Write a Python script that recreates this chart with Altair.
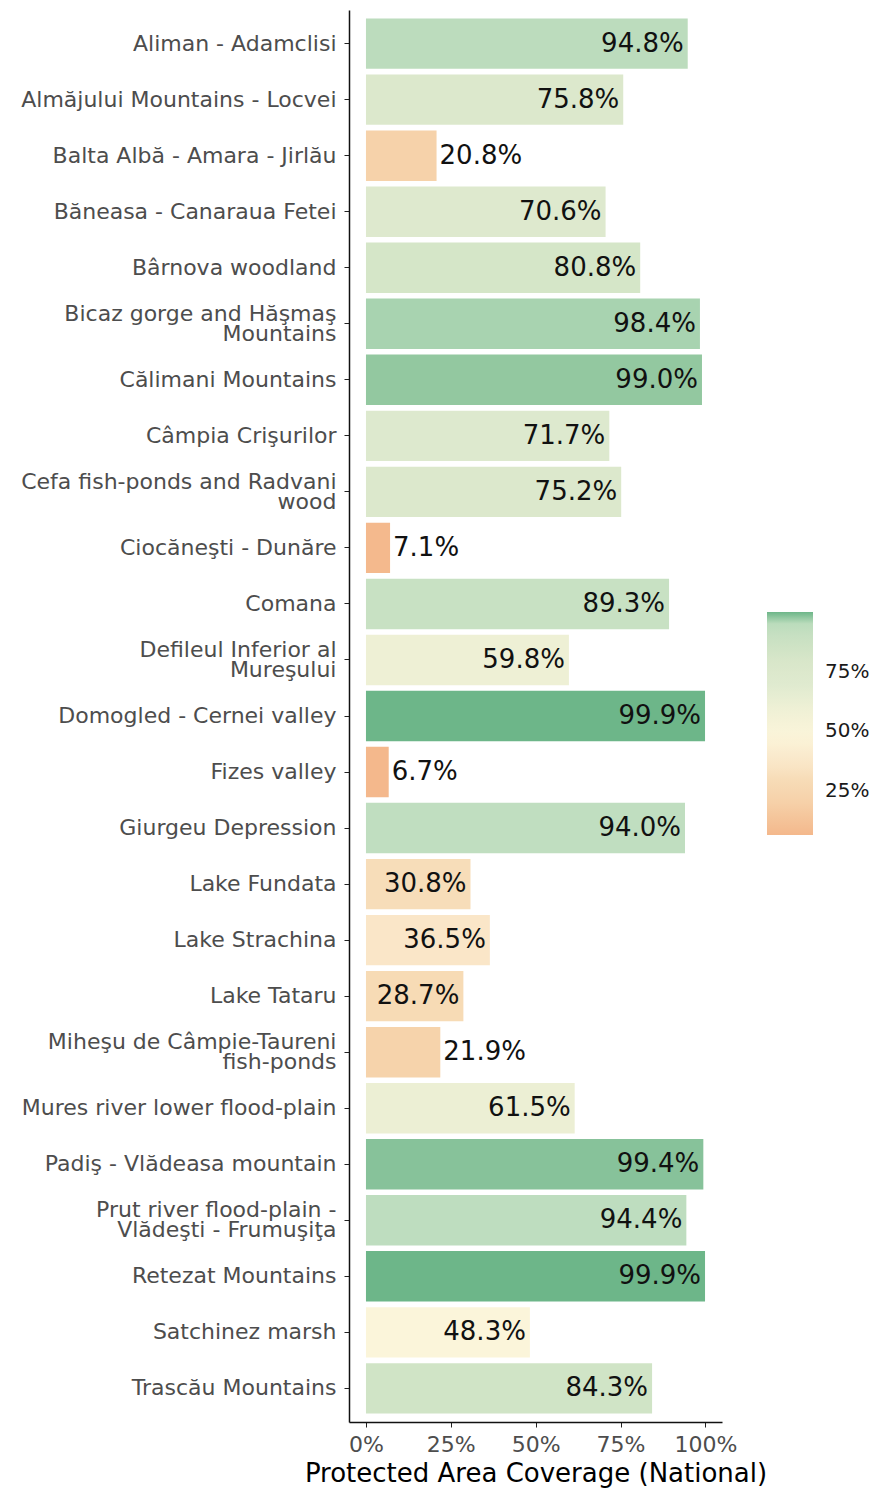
import altair as alt
import pandas as pd

sites = [
    "Aliman - Adamclisi",
    "Almăjului Mountains - Locvei",
    "Balta Albă - Amara - Jirlău",
    "Băneasa - Canaraua Fetei",
    "Bârnova woodland",
    "Bicaz gorge and Hăşmaş\nMountains",
    "Călimani Mountains",
    "Câmpia Crişurilor",
    "Cefa fish-ponds and Radvani\nwood",
    "Ciocăneşti - Dunăre",
    "Comana",
    "Defileul Inferior al\nMureşului",
    "Domogled - Cernei valley",
    "Fizes valley",
    "Giurgeu Depression",
    "Lake Fundata",
    "Lake Strachina",
    "Lake Tataru",
    "Miheşu de Câmpie-Taureni\nfish-ponds",
    "Mures river lower flood-plain",
    "Padiş - Vlădeasa mountain",
    "Prut river flood-plain -\nVlădeşti - Frumuşiţa",
    "Retezat Mountains",
    "Satchinez marsh",
    "Trascău Mountains",
]
coverage = [94.8, 75.8, 20.8, 70.6, 80.8, 98.4, 99.0, 71.7, 75.2, 7.1,
            89.3, 59.8, 99.9, 6.7, 94.0, 30.8, 36.5, 28.7, 21.9, 61.5,
            99.4, 94.4, 99.9, 48.3, 84.3]
legend_ticks = [25, 50, 75]
x_ticks = [0, 25, 50, 75, 100]

df = pd.DataFrame({"site": sites, "coverage": coverage})
df["label"] = df["coverage"].map(lambda v: f"{v:.1f}%")

col_domain = [6.7, 21, 30, 36.5, 48.3, 60, 71, 76, 84, 94, 98.4, 99.0, 99.4, 99.9]
col_range = ["#F4B88C", "#F6D2AA", "#F7DCB7", "#FAE6C8", "#FBF5DA", "#EEF0D5",
             "#DDE9CE", "#DCE8CC", "#D1E4C6", "#C0DEC0", "#A8D3B0", "#93C8A0",
             "#87C29A", "#6DB689"]

FONT = "DejaVu Sans"

y_enc = alt.Y(
    "site:N",
    sort=sites,
    title=None,
    scale=alt.Scale(paddingInner=0.1, paddingOuter=0.15),
    axis=alt.Axis(labelExpr="split(datum.label, '\\n')", labelLineHeight=20,
                  labelFontSize=22, labelColor="#4D4D4D", labelFont=FONT,
                  labelPadding=8, tickSize=5, tickColor="#222222",
                  labelOffset={"condition": {"test": "indexof(datum.value, '\\n') >= 0",
                                             "value": -10},
                               "value": 0},
                  domainColor="#111111", domainWidth=1.5, labelLimit=400,
                  grid=False),
)
x_scale = alt.Scale(domain=[-5.0, 104.9], nice=False, zero=False)

bars = alt.Chart(df).mark_bar().encode(
    y=y_enc,
    x=alt.X("coverage:Q", scale=x_scale,
            title="Protected Area Coverage (National)",
            axis=alt.Axis(values=x_ticks, labelExpr="datum.value + '%'",
                          labelFontSize=22, labelColor="#4D4D4D", labelFont=FONT,
                          labelPadding=7, tickSize=5, tickColor="#222222",
                          domainColor="#111111", domainWidth=1.5, grid=False,
                          titleFont=FONT, titleFontSize=26, titleFontWeight="normal",
                          titleColor="#000000", titlePadding=5)),
    x2=alt.datum(0),
    color=alt.Color("coverage:Q",
                    scale=alt.Scale(domain=col_domain, range=col_range, interpolate="rgb"),
                    legend=alt.Legend(title=None, values=legend_ticks,
                                      labelExpr="datum.value + '%'",
                                      orient="none", legendX=418, legendY=602,
                                      gradientLength=223, gradientThickness=46,
                                      labelFont=FONT, labelFontSize=20,
                                      labelColor="#1A1A1A", labelOffset=12,
                                      gradientStrokeWidth=0, padding=0)),
)

inside = alt.Chart(df).transform_filter("datum.coverage >= 25").mark_text(
    align="right", baseline="middle", dx=-4, font=FONT, fontSize=26, color="#111111"
).encode(y=alt.Y("site:N", sort=sites), x=alt.X("coverage:Q", scale=x_scale), text="label:N")

outside = alt.Chart(df).transform_filter("datum.coverage < 25").mark_text(
    align="left", baseline="middle", dx=3, font=FONT, fontSize=26, color="#111111"
).encode(y=alt.Y("site:N", sort=sites), x=alt.X("coverage:Q", scale=x_scale), text="label:N")

chart = alt.layer(bars, inside, outside).properties(
    width=373, height=1412,
    autosize=alt.AutoSizeParams(type="none"),
    padding={"left": 341, "top": 2, "right": 149, "bottom": 69},
).configure_view(stroke=None)

chart.save("out.html", embed_options={"renderer": "svg", "actions": False})
